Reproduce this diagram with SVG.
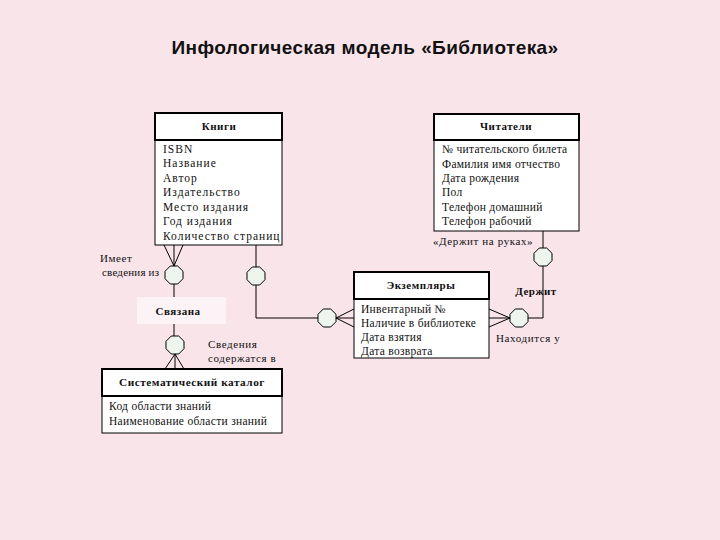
<svg xmlns="http://www.w3.org/2000/svg" width="720" height="540" viewBox="0 0 720 540">
<defs>
<style>
.bg{fill:#f9e4ea}
.ent{fill:#ffffff;stroke:#000;stroke-width:1}
.hdr{fill:#ffffff;stroke:#000;stroke-width:2}
.t{font-family:"Liberation Serif","DejaVu Serif",serif;font-size:11.5px;letter-spacing:0.3px;fill:#111}
.w{letter-spacing:1px}
.h{font-family:"Liberation Serif","DejaVu Serif",serif;font-size:11px;font-weight:bold;letter-spacing:0.5px;fill:#111;text-anchor:middle}
.lbl{font-family:"Liberation Serif","DejaVu Serif",serif;font-size:11px;letter-spacing:0.6px;fill:#111}
.ln{fill:none;stroke:#000;stroke-width:1}
.oct{fill:#eef4ee;stroke:#000;stroke-width:1}
</style>
<polygon id="o" points="-3.7,-9 3.7,-9 9,-3.7 9,3.7 3.7,9 -3.7,9 -9,3.7 -9,-3.7"/>
</defs>
<rect class="bg" x="0" y="0" width="720" height="540"/>
<text x="365" y="54" text-anchor="middle" font-family="Liberation Sans, Arial, sans-serif" font-size="19" font-weight="bold" letter-spacing="0.4" fill="#111">Инфологическая модель «Библиотека»</text>

<g id="connectors">
<polyline class="ln" points="164,245 174,266 183,245"/>
<line class="ln" x1="174" y1="245" x2="174" y2="266"/>
<line class="ln" x1="174" y1="284" x2="174" y2="298"/>
<line class="ln" x1="174" y1="324" x2="174" y2="336"/>
<polyline class="ln" points="165,369 175,354 184,369"/>
<line class="ln" x1="175" y1="354" x2="175" y2="369"/>
<polyline class="ln" points="256,245 256,318 318,318"/>
<polyline class="ln" points="354,309 336,318 354,327"/>
<line class="ln" x1="336" y1="318" x2="354" y2="318"/>
<polyline class="ln" points="489,309 510,318 489,327"/>
<line class="ln" x1="489" y1="318" x2="510" y2="318"/>
<polyline class="ln" points="528,318 543,318 543,231"/>
<use href="#o" class="oct" x="174" y="275"/>
<use href="#o" class="oct" x="175" y="345"/>
<use href="#o" class="oct" x="256" y="276"/>
<use href="#o" class="oct" x="327" y="318"/>
<use href="#o" class="oct" x="519" y="318"/>
<use href="#o" class="oct" x="543" y="257"/>
</g>

<g id="books">
<rect class="ent" x="155" y="140" width="127" height="105"/>
<rect class="hdr" x="155" y="113" width="127" height="27"/>
<text class="h" x="219" y="130">Книги</text>
<text class="t w" x="163" y="153">ISBN</text>
<text class="t w" x="163" y="167">Название</text>
<text class="t w" x="163" y="182">Автор</text>
<text class="t w" x="163" y="196">Издательство</text>
<text class="t w" x="163" y="211">Место издания</text>
<text class="t w" x="163" y="225">Год издания</text>
<text class="t w" x="163" y="240">Количество страниц</text>
</g>

<g id="readers">
<rect class="ent" x="434" y="140" width="145" height="91"/>
<rect class="hdr" x="434" y="114" width="145" height="26"/>
<text class="h" x="506" y="130">Читатели</text>
<text class="t" x="442" y="153">№ читательского билета</text>
<text class="t" x="442" y="168">Фамилия имя отчество</text>
<text class="t" x="442" y="182">Дата рождения</text>
<text class="t" x="442" y="196">Пол</text>
<text class="t" x="442" y="211">Телефон домашний</text>
<text class="t" x="442" y="225">Телефон рабочий</text>
</g>

<g id="copies">
<rect class="ent" x="354" y="299" width="135" height="59"/>
<rect class="hdr" x="354" y="272" width="135" height="27"/>
<text class="h" x="421" y="289">Экземпляры</text>
<text class="t" x="361" y="313">Инвентарный №</text>
<text class="t" x="361" y="327">Наличие в библиотеке</text>
<text class="t" x="361" y="341">Дата взятия</text>
<text class="t" x="361" y="355">Дата возврата</text>
</g>

<g id="catalog">
<rect class="ent" x="102" y="396" width="180" height="37"/>
<rect class="hdr" x="102" y="369" width="180" height="27"/>
<text class="h" x="192" y="386" style="font-size:11.3px">Систематический каталог</text>
<text class="t" x="109" y="410">Код области знаний</text>
<text class="t" x="109" y="425">Наименование области знаний</text>
</g>

<g id="rel-linked">
<rect x="137" y="297" width="89" height="27" fill="#fcf3f6"/>
<text class="h" x="178" y="315">Связана</text>
</g>

<g id="labels">
<text class="lbl" x="100" y="262">Имеет</text>
<text class="lbl" x="102" y="276" style="letter-spacing:0.2px">сведения из</text>
<text class="lbl" x="208" y="348">Сведения</text>
<text class="lbl" x="208" y="362">содержатся в</text>
<text class="lbl" x="433" y="245">«Держит на руках»</text>
<text class="h" x="536" y="295">Держит</text>
<text class="lbl" x="496" y="342">Находится у</text>
</g>
</svg>
